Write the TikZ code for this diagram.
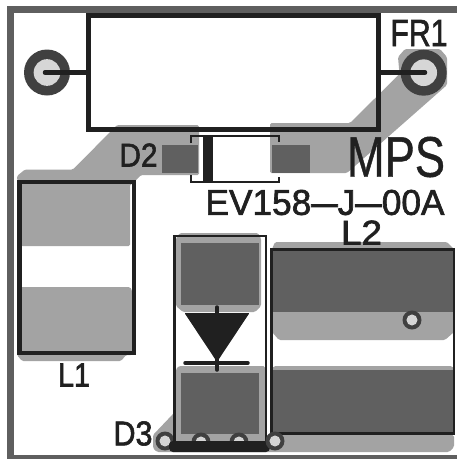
\documentclass[tikz,border=0pt]{standalone}
\usepackage{graphicx}
\usepackage{fontspec}
\newfontfamily\pcbfont[FakeBold=1.8]{Liberation Sans}
\newfontfamily\logofont[FakeBold=0.8]{Liberation Sans}
\definecolor{ink}{HTML}{202020}
\definecolor{edgegrey}{HTML}{5F5F5F}
\definecolor{copper}{HTML}{A3A3A3}
\definecolor{padgrey}{HTML}{606060}
\definecolor{ringgrey}{HTML}{404040}
\definecolor{holegrey}{HTML}{D6D6D6}
\tikzset{
  x=1pt,y=-1pt,
  copperfill/.style={fill=copper,draw=none,rounded corners=1.5pt},
  padfill/.style={fill=padgrey,draw=none},
  silk/.style={draw=ink,line width=#1,line cap=round},
  silk/.default=2.5pt,
  lab/.style={inner sep=0pt,outer sep=0pt,text=ink},
}
\newcommand{\via}[3]{%
  \fill[ringgrey] (#1,#2) circle[radius=#3];
  \fill[holegrey] (#1,#2) circle[radius=#3*0.58];}
\newcommand{\longdash}{\scalebox{1.35}[1]{–}}
\begin{document}
\begin{tikzpicture}
\useasboundingbox (0,0) rectangle (457,459);
\fill[white] (0,0) rectangle (457,459);
% board edge
\fill[edgegrey] (7,6) rectangle (457,13);
\fill[edgegrey] (7,6) rectangle (14,459);
\fill[edgegrey] (7,455) rectangle (457,459);
% copper
\fill[copperfill] (25,169.5) -- (73,169.5) -- (117,125) -- (199,125) -- (199,175) -- (141,175) -- (132,184) -- (130,184) -- (130,246) -- (21,246) -- (21,184) -- (17,180) -- (17,176) -- cycle;
\fill[copperfill] (270,123) -- (350,123) -- (399.5,74) -- (398,57) -- (405,49) -- (440,49) -- (447,57) -- (447,85) -- (347,173) -- (270,173) -- cycle;
\fill[copperfill] (21,287) -- (130,287) -- (132,290) -- (132,355) -- (126,355) -- (121,361) -- (22,361) -- (17,355) -- (17,287) -- cycle;
\fill[copperfill] (180,233) -- (258,233) -- (261,238) -- (261,306) -- (255,312) -- (183,312) -- (176,306) -- (176,238) -- cycle;
\fill[copperfill] (179,366) -- (265,366) -- (265,435) -- (449,435) -- (454,435) -- (454,447) -- (449,452) -- (157,452) -- (153,448) -- (153,435) -- (173,414) -- (176,410) -- (176,369) -- cycle;
\fill[copperfill] (275,242) -- (447,242) -- (454,249) -- (454,332) -- (445,340) -- (279,340) -- (272,332) -- (272,249) -- cycle;
\fill[copperfill] (274,366) -- (452,366) -- (454,369) -- (454,435) -- (272,435) -- (272,369) -- cycle;
% pads
\fill[padfill] (162,145) rectangle (198,173);
\fill[padfill] (272,145) rectangle (310,173);
\fill[padfill] (181,243) rectangle (259,305);
\fill[padfill] (181,373) rectangle (259,434);
\fill[padfill] (272,250) rectangle (454,312);
\fill[padfill] (272,370) rectangle (454,432);
% vias and mounting holes
\via{47}{72.5}{23}
\via{423.7}{72.7}{23}
\via{412}{320}{9.5}
\via{165}{441}{9.5}
\via{201}{442}{9.5}
\via{239}{442}{9.5}
% FR1 body
\draw[silk=5pt,line cap=butt] (88.5,15.5) rectangle (378.5,129.5);
\draw[silk=4.5pt] (45,72.5) -- (88,72.5);
\draw[silk=4.5pt] (381,72.5) -- (425,72.5);
% D2 outline
\draw[ink,line width=1.5pt] (191,143) -- (191,136) -- (279,136) -- (279,142);
\draw[ink,line width=1.5pt] (191,175) -- (191,182) -- (279,182) -- (279,177);
\fill[ink] (203,136) rectangle (213,182);
% L1, L2 outlines
\draw[silk=4.5pt,line cap=butt] (19.5,182) rectangle (134,353);
\draw[silk=2.5pt,line cap=butt] (271.5,249.5) rectangle (454,433.5);
% D3 outline and symbol
\draw[silk=2.5pt,line cap=butt] (174.5,236.2) rectangle (266,445);
\fill[ink,line join=round,draw=ink,line width=1pt] (185.5,313.5) -- (248.5,313.5) -- (217,361) -- cycle;
\draw[silk=3.5pt] (185,363) -- (248,363);
\draw[silk=3.5pt] (217,307) -- (217,370);
\fill[ink,rounded corners=4pt] (169,441) rectangle (270,452);
\via{275}{441}{9.5}
% labels
\node[lab] (labD2) at (138.5,155) {\resizebox{38pt}{23pt}{\pcbfont D2}};
\node[lab] (labFR1) at (419,33) {\resizebox{57pt}{26pt}{\pcbfont FR1}};
\node[lab] (labMPS) at (396,157) {\resizebox{98pt}{40pt}{\logofont MPS}};
\node[lab] (labEV) at (325,202.5) {\resizebox{239pt}{25pt}{\pcbfont EV158\longdash J\longdash 00A}};
\node[lab] (labL2) at (361.5,232.5) {\resizebox{41pt}{24pt}{\pcbfont L2}};
\node[lab] (labL1) at (74,375) {\resizebox{32pt}{23pt}{\pcbfont L1}};
\node[lab] (labD3) at (133,433.5) {\resizebox{39pt}{24pt}{\pcbfont D3}};
\end{tikzpicture}
\end{document}
